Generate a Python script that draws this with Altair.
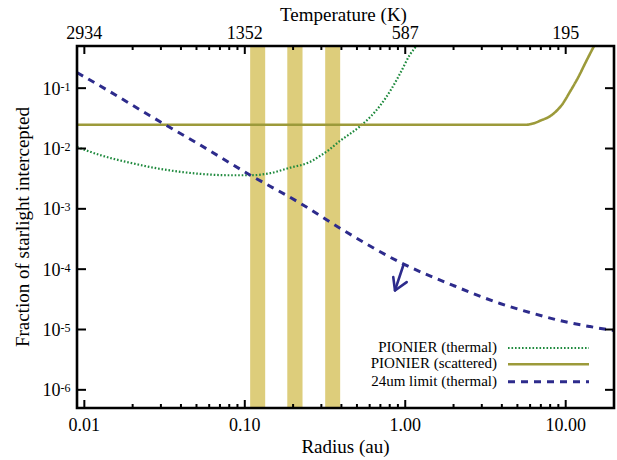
import altair as alt
import pandas as pd

# ---------------- data ----------------
band_lo = [0.108, 0.184, 0.317]
band_hi = [0.134, 0.229, 0.393]

r_thermal = [0.009, 0.0125, 0.0193, 0.0296, 0.0526, 0.0809, 0.108, 0.144, 0.191,
             0.255, 0.294, 0.340, 0.392, 0.453, 0.523, 0.603, 0.696, 0.804,
             0.928, 1.07, 1.17, 1.35]
f_thermal = [0.0106, 0.0078, 0.0058, 0.0046, 0.0038, 0.0036, 0.0036, 0.0039, 0.0048,
             0.0060, 0.0075, 0.0098, 0.0134, 0.0175, 0.0233, 0.033, 0.051, 0.089,
             0.174, 0.36, 0.50, 1.0]

r_scat = [0.009, 1.0, 5.58, 6.17, 6.92, 8.22, 9.48, 10.64, 11.94, 13.39, 15.02, 16.84]
f_scat = [0.0247, 0.0247, 0.0247, 0.0257, 0.0288, 0.0362, 0.0532, 0.0875, 0.1496,
          0.276, 0.50, 0.88]

r_limit = [0.009, 0.01445, 0.02566, 0.05257, 0.1078, 0.2209, 0.392, 0.928,
           1.986, 3.897, 5.99, 9.48, 14.18, 20.0]
f_limit = [0.181, 0.0875, 0.0349, 0.01148, 0.00364, 0.001245, 4.78e-4, 1.30e-4,
           5.38e-5, 2.70e-5, 1.91e-5, 1.38e-5, 1.118e-5, 9.6e-6]

arrow_r = [0.973, 0.863]
arrow_f = [1.16e-4, 4.44e-5]
head_r = [0.842, 0.863, 1.021]
head_f = [7.39e-5, 4.44e-5, 6.1e-5]

x_major = [0.01, 0.1, 1.0, 10.0]
x_labels = ["0.01", "0.10", "1.00", "10.00"]
temp_labels = ["2934", "1352", "587", "195"]
x_minor = [0.02, 0.03, 0.04, 0.05, 0.06, 0.07, 0.08, 0.09,
           0.2, 0.3, 0.4, 0.5, 0.6, 0.7, 0.8, 0.9,
           2, 3, 4, 5, 6, 7, 8, 9]
y_major = [1e-1, 1e-2, 1e-3, 1e-4, 1e-5, 1e-6]
y_exp = ["-1", "-2", "-3", "-4", "-5", "-6"]

legend_labels = ["PIONIER (thermal)", "PIONIER (scattered)", "24um limit (thermal)"]

# ---------------- styling ----------------
W, H = 537, 362
FONT = "Liberation Serif"
C_TH = "#1f8a3e"
C_SC = "#9c9a3a"
C_LIM = "#2d2b8c"
C_BAND = "#ddcd7b"

xs = alt.Scale(type="log", domain=[0.009, 20])
ys = alt.Scale(type="log", domain=[5e-7, 0.5])

bands = alt.Chart(pd.DataFrame({"lo": band_lo, "hi": band_hi})).mark_rect(color=C_BAND).encode(
    x=alt.X("lo:Q", scale=xs, axis=None), x2="hi:Q",
    y=alt.value(0), y2=alt.value(H))

def curve(r, f, color, dash, sw):
    df = pd.DataFrame({"r": r, "f": f, "i": list(range(len(r)))})
    return alt.Chart(df).mark_line(color=color, strokeDash=dash, strokeWidth=sw, clip=True,
                                   interpolate="monotone").encode(
        x=alt.X("r:Q", scale=xs, axis=None),
        y=alt.Y("f:Q", scale=ys, axis=None),
        order="i:Q")

def segs(r, f, color, sw):
    df = pd.DataFrame({"r": r, "f": f, "i": list(range(len(r)))})
    return alt.Chart(df).mark_line(color=color, strokeWidth=sw, strokeCap="round",
                                   strokeJoin="round").encode(
        x=alt.X("r:Q", scale=xs, axis=None),
        y=alt.Y("f:Q", scale=ys, axis=None),
        order="i:Q")

thermal = curve(r_thermal, f_thermal, C_TH, [1.6, 1.9], 2.2)
scat = curve(r_scat, f_scat, C_SC, [1, 0], 2.6)
limit = curve(r_limit, f_limit, C_LIM, [7, 6], 3)
arrow = segs(arrow_r, arrow_f, C_LIM, 2.6)
head = segs(head_r, head_f, C_LIM, 2.6)

def xticks(vals, y0, y1):
    return alt.Chart(pd.DataFrame({"r": vals})).mark_rule(color="black", strokeWidth=2).encode(
        x=alt.X("r:Q", scale=xs, axis=None), y=alt.value(y0), y2=alt.value(y1))

def yticks(vals, x0, x1):
    return alt.Chart(pd.DataFrame({"v": vals})).mark_rule(color="black", strokeWidth=2).encode(
        y=alt.Y("v:Q", scale=ys, axis=None), x=alt.value(x0), x2=alt.value(x1))

ticks = [
    xticks(x_major, H, H - 8), xticks(x_minor, H, H - 4),
    xticks(x_major, 0, 8), xticks(x_minor, 0, 4),
    yticks(y_major, 0, 9), yticks(y_major, W, W - 9),
]

xlab = alt.Chart(pd.DataFrame({"r": x_major, "t": x_labels})).mark_text(
    font=FONT, fontSize=18, baseline="alphabetic", align="center", color="black").encode(
    x=alt.X("r:Q", scale=xs, axis=None), y=alt.value(385), text="t:N")
tlab = alt.Chart(pd.DataFrame({"r": x_major, "t": temp_labels})).mark_text(
    font=FONT, fontSize=18, baseline="alphabetic", align="center", color="black").encode(
    x=alt.X("r:Q", scale=xs, axis=None), y=alt.value(-7), text="t:N")

ydf = pd.DataFrame({"v": y_major, "e": y_exp, "b": ["10"] * len(y_major)})
ylab10 = alt.Chart(ydf).mark_text(font=FONT, fontSize=18, baseline="alphabetic", align="right",
                                  dy=6.4, color="black").encode(
    y=alt.Y("v:Q", scale=ys, axis=None), x=alt.value(-16.5), text="b:N")
ylabexp = alt.Chart(ydf).mark_text(font=FONT, fontSize=12, baseline="alphabetic", align="left",
                                   dy=2.4, color="black").encode(
    y=alt.Y("v:Q", scale=ys, axis=None), x=alt.value(-16.5), text="e:N")

one = pd.DataFrame({"a": [0]})
def label(txt, x, y, size=19, angle=0, align="center", baseline="alphabetic"):
    return alt.Chart(one).mark_text(text=txt, font=FONT, fontSize=size, angle=angle,
                                    align=align, baseline=baseline, color="black").encode(
        x=alt.value(x), y=alt.value(y))

titles = [
    label("Radius (au)", W / 2, 406.5),
    label("Temperature (K)", W / 2 - 2, -25),
    label("Fraction of starlight intercepted", -54.5, H / 2, angle=270, baseline="middle"),
]

leg_y = [301, 317.3, 334.7]
leg_style = [(C_TH, [1.6, 1.9], 2.2), (C_SC, [1, 0], 2.6), (C_LIM, [7, 6], 3)]
legend = []
for lab, yy, (c, d, sw) in zip(legend_labels, leg_y, leg_style):
    legend.append(label(lab, 420, yy, size=15, align="right", baseline="middle"))
    legend.append(alt.Chart(one).mark_rule(color=c, strokeDash=d, strokeWidth=sw).encode(
        x=alt.value(431), x2=alt.value(512), y=alt.value(yy + 1)))

frame = alt.Chart(one).mark_rect(filled=False, stroke="black", strokeWidth=2.6).encode(
    x=alt.value(0), x2=alt.value(W), y=alt.value(0), y2=alt.value(H))

chart = alt.layer(bands, thermal, scat, limit, arrow, head, *ticks, xlab, tlab, ylab10, ylabexp,
                  *titles, *legend, frame).properties(
    width=W, height=H,
    autosize=alt.AutoSizeParams(type="none"),
    padding={"left": 77, "top": 46, "right": 3, "bottom": 52},
    background="white",
).configure_view(strokeWidth=0)

chart.save("out.html", embed_options={"renderer": "svg", "actions": False})
